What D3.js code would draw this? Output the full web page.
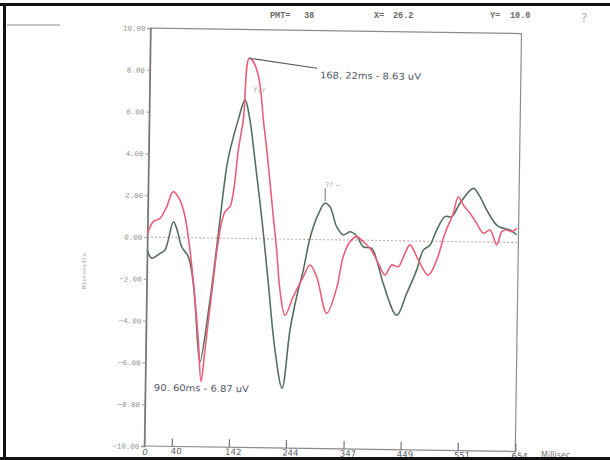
<!DOCTYPE html>
<html>
<head>
<meta charset="utf-8">
<script src="https://cdn.jsdelivr.net/npm/d3@7"></script>
<style>
  html, body { margin: 0; padding: 0; background: #fff; }
  svg { display: block; }
</style>
</head>
<body>
<svg id="chart" width="610" height="460"></svg>
<script>
// Evoked response traces: latency (ms) and amplitude (µV)
const msRed = [-9, 1, 13, 24.6, 36, 48.2, 57.7, 67.4, 77.7, 84.6, 90.6, 96.8, 107.3, 120.6, 129, 137.7, 144, 151.1, 159.2, 168.22, 176, 184, 190, 195, 202, 215.4, 222.3, 229.2, 238.9, 253.1, 270.5, 282.3, 294.4, 313.4, 330.5, 341.4, 353, 365, 376.8, 389, 404.2, 416.5, 428.3, 440, 451.7, 460.4, 475.6, 493.8, 508.5, 522.6, 536.9, 545.5, 554.6, 566.8, 579, 591.1, 603, 615.4, 624, 632.7, 641.8, 650.6];
const uvRed = [0.15, 0.74, 0.90, 1.46, 2.19, 1.79, 1.0, -0.59, -2.98, -4.89, -6.87, -5.36, -2.65, 0.39, 1.27, 1.51, 2.31, 4.23, 5.67, 8.63, 8.45, 7.9, 7.0, 5.7, 4.25, 1.06, -0.53, -2.44, -3.64, -2.75, -1.79, -1.22, -1.78, -3.52, -2.3, -0.80, -0.08, 0.17, -0.07, -0.38, -1.09, -1.65, -1.16, -1.24, -0.59, -0.19, -0.90, -1.63, -0.89, 0.39, 1.35, 2.15, 1.76, 1.37, 0.89, 0.42, 0.58, -0.13, 0.51, 0.59, 0.52, 0.68];

const msGreen = [-9, -0.8, 13.9, 22.7, 37, 43, 52.5, 64.5, 74.3, 84.8, 88.2, 104.5, 117.2, 130.8, 136.3, 150.2, 161.8, 171.1, 181.1, 195.2, 207.6, 221.9, 235.5, 248.2, 259.2, 270.4, 281.5, 295.1, 307.5, 316.4, 328.9, 340.9, 352.9, 364.9, 377, 392, 401.3, 413.6, 438.5, 455.8, 472.9, 484.3, 496.2, 507.7, 522.2, 534.2, 548.6, 572.1, 584.1, 596.4, 614.8, 626.7, 638.7, 650.8];
const uvGreen = [-0.62, -1.01, -0.77, -0.61, 0.75, 0.44, -0.44, -0.91, -2.18, -5.37, -5.94, -2.97, 0.10, 3.42, 4.22, 5.67, 6.63, 5.67, 3.76, 0.90, -1.97, -5.31, -7.13, -4.35, -2.75, -1.47, 0.06, 1.18, 1.74, 1.58, 0.63, 0.24, 0.40, 0.20, -0.31, -0.38, -0.94, -2.05, -3.56, -2.51, -1.39, -0.43, -0.18, 0.54, 1.19, 1.19, 1.84, 2.56, 2.17, 1.54, 0.82, 0.67, 0.59, 0.36];

const yTickValues = [10, 8, 6, 4, 2, 0, -2, -4, -6, -8, -10];
const xTickValues = [40, 142, 244, 347, 449, 551, 654];
const xDomain = [-9, 654];
const yDomain = [-10, 10];

// Marked peaks
const peakLabel = { ms: 168.22, uv: 8.63, text: "168, 22ms - 8.63 uV" };
const troughLabel = { ms: 90.6, uv: -6.87, text: "90. 60ms - 6.87 uV" };
const headerItems = [["PMT=", 270, "38", 304], ["X=", 374, "26.2", 393], ["Y=", 490, "10.0", 510]];

const svg = d3.select("#chart");
const frame = { left: 147.4, right: 518.4, top: 30.8, bottom: 448.8 };
const cx = (frame.left + frame.right) / 2, cy = (frame.top + frame.bottom) / 2;

const x = d3.scaleLinear().domain(xDomain).range([frame.left, frame.right]);
const y = d3.scaleLinear().domain(yDomain).range([frame.bottom, frame.top]);

svg.append("rect").attr("width", 610).attr("height", 460).attr("fill", "#fff");

// plot sheet sits slightly tilted on the page
const g = svg.append("g").attr("transform", `rotate(0.85,${cx},${cy})`);

// frame
g.append("rect")
  .attr("x", frame.left).attr("y", frame.top)
  .attr("width", frame.right - frame.left).attr("height", frame.bottom - frame.top)
  .attr("fill", "none").attr("stroke", "#8c8c8c").attr("stroke-width", 1.2);

// y axis
const yAxis = g.append("g").attr("transform", `translate(${frame.left},0)`)
  .call(d3.axisLeft(y).tickValues(yTickValues).tickFormat(d3.format(".2f")).tickSize(3).tickPadding(2));
yAxis.select(".domain").attr("stroke", "#777").attr("stroke-width", 1.4);
yAxis.selectAll(".tick line").attr("stroke", "#999");
yAxis.selectAll("text").attr("font-family", "'Liberation Mono', monospace")
  .attr("font-size", 7.5).attr("fill", "#8f8f8f");

// x axis (ticks point into the plot)
const xAxis = g.append("g").attr("transform", `translate(0,${frame.bottom})`)
  .call(d3.axisBottom(x).tickValues(xTickValues).tickSize(-8).tickPadding(1.5).tickFormat(d3.format("d")));
xAxis.select(".domain").remove();
xAxis.selectAll(".tick line").attr("stroke", "#777").attr("stroke-width", 1.2);
xAxis.selectAll("text").attr("font-family", "'DejaVu Sans', sans-serif")
  .attr("font-size", 8.5).attr("fill", "#5a5a66").attr("dx", 4);
g.append("text").attr("x", x(xDomain[0]) - 2).attr("y", frame.bottom + 9)
  .attr("font-family", "'DejaVu Sans', sans-serif").attr("font-size", 8.5)
  .attr("fill", "#5a5a66").attr("font-style", "italic").text("0");

// zero line
g.append("line")
  .attr("x1", x(xDomain[0])).attr("x2", x(xDomain[1]))
  .attr("y1", y(0)).attr("y2", y(0))
  .attr("stroke", "#b59090").attr("stroke-width", 1.1).attr("stroke-dasharray", "1.5,2.5");

const line = d3.line().x(d => x(d[0])).y(d => y(d[1])).curve(d3.curveCatmullRom.alpha(0.5));

g.append("path").datum(d3.zip(msGreen, uvGreen))
  .attr("d", line).attr("fill", "none")
  .attr("stroke", "#55705f").attr("stroke-width", 1.6).attr("stroke-linejoin", "round");
g.append("path").datum(d3.zip(msRed, uvRed))
  .attr("d", line).attr("fill", "none")
  .attr("stroke", "#ec5f7a").attr("stroke-width", 1.6).attr("stroke-linejoin", "round");

// peak annotation with leader
const hand = "'DejaVu Sans', sans-serif";
g.append("line")
  .attr("x1", x(peakLabel.ms)).attr("y1", y(peakLabel.uv))
  .attr("x2", x(peakLabel.ms) + 68).attr("y2", y(peakLabel.uv) + 9)
  .attr("stroke", "#555a60").attr("stroke-width", 1);
g.append("text")
  .attr("x", x(peakLabel.ms) + 71).attr("y", y(peakLabel.uv) + 19)
  .attr("font-family", hand).attr("font-size", 9).attr("fill", "#4f5563")
  .attr("textLength", 101).attr("lengthAdjust", "spacingAndGlyphs")
  .text(peakLabel.text);

// trough annotation
g.append("text")
  .attr("x", x(troughLabel.ms) - 47).attr("y", y(troughLabel.uv) + 10)
  .attr("font-family", hand).attr("font-size", 9).attr("fill", "#4f5563")
  .attr("textLength", 95).attr("lengthAdjust", "spacingAndGlyphs")
  .text(troughLabel.text);

// small pencil marks
g.append("text").attr("x", x(176)).attr("y", y(7.0))
  .attr("font-family", hand).attr("font-size", 7).attr("fill", "#a0a0a8").text("Y₂ r");
g.append("line")
  .attr("x1", x(307.5)).attr("x2", x(307.5))
  .attr("y1", y(1.74) - 2).attr("y2", y(1.74) - 15)
  .attr("stroke", "#6d7a72").attr("stroke-width", 1);
g.append("text").attr("x", x(308)).attr("y", y(2.5))
  .attr("font-family", hand).attr("font-size", 7).attr("fill", "#a8a8b0").text("?? ~");

// axis title
svg.append("text")
  .attr("transform", "translate(86,271) rotate(-90)")
  .attr("text-anchor", "middle")
  .attr("font-family", "'Liberation Mono', monospace").attr("font-size", 6)
  .attr("fill", "#9a9a9a").text("Microvolts");
svg.append("text").attr("x", 541).attr("y", 458)
  .attr("font-family", hand).attr("font-size", 8).attr("fill", "#777").text("Millisec");

// header readouts
headerItems.forEach(([k, kx, v, vx]) => {
  svg.append("text").attr("x", kx).attr("y", 18)
    .attr("font-family", "'Liberation Mono', monospace").attr("font-size", 8.5)
    .attr("font-weight", "bold").attr("fill", "#6a6a6a").text(k);
  svg.append("text").attr("x", vx).attr("y", 18)
    .attr("font-family", "'Liberation Mono', monospace").attr("font-size", 8.5)
    .attr("font-weight", "bold").attr("fill", "#6a6a6a").text(v);
});
svg.append("text").attr("x", 581).attr("y", 22)
  .attr("font-family", hand).attr("font-size", 12).attr("fill", "#b0b0b0").text("?");

svg.append("line").attr("x1", 7).attr("x2", 60).attr("y1", 25).attr("y2", 25)
  .attr("stroke", "#888").attr("stroke-width", 1);

// scanner border
svg.append("rect").attr("x", 0).attr("y", 3).attr("width", 610).attr("height", 3).attr("fill", "#111");
svg.append("rect").attr("x", 3).attr("y", 3).attr("width", 3).attr("height", 457).attr("fill", "#111");
svg.append("rect").attr("x", 0).attr("y", 457).attr("width", 610).attr("height", 3).attr("fill", "#111");
</script>
</body>
</html>
